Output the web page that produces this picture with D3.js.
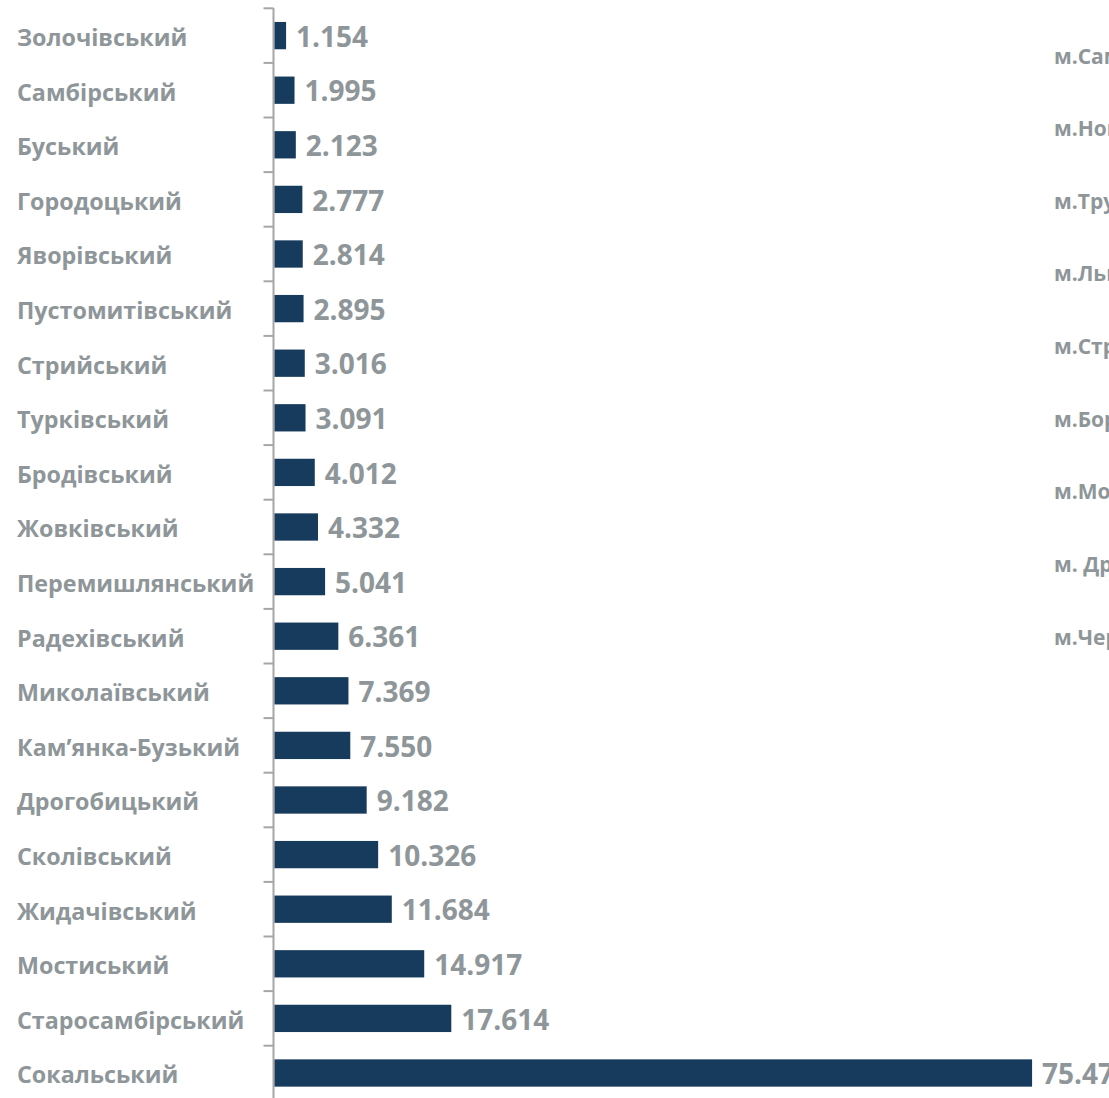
<!DOCTYPE html>
<html>
<head>
<meta charset="utf-8">
<script src="https://cdn.jsdelivr.net/npm/d3@7"></script>
<style>
  html, body { margin: 0; padding: 0; background: #fff; overflow: hidden; }
  svg { display: block; }
  text { font-family: "Open Sans", "Noto Sans", sans-serif; font-weight: 700; fill: #8e9699; }
</style>
</head>
<body>
<div id="chart"></div>
<script>
// Райони (зверху вниз) та значення
const districts = [
  "Золочівський", "Самбірський", "Буський", "Городоцький", "Яворівський",
  "Пустомитівський", "Стрийський", "Турківський", "Бродівський", "Жовківський",
  "Перемишлянський", "Радехівський", "Миколаївський", "Кам’янка-Бузький", "Дрогобицький",
  "Сколівський", "Жидачівський", "Мостиський", "Старосамбірський", "Сокальський"
];
const values = [
  1.154, 1.995, 2.123, 2.777, 2.814,
  2.895, 3.016, 3.091, 4.012, 4.332,
  5.041, 6.361, 7.369, 7.550, 9.182,
  10.326, 11.684, 14.917, 17.614, 75.475
];
const valueLabels = [
  "1.154", "1.995", "2.123", "2.777", "2.814",
  "2.895", "3.016", "3.091", "4.012", "4.332",
  "5.041", "6.361", "7.369", "7.550", "9.182",
  "10.326", "11.684", "14.917", "17.614", "75.475"
];
// Міста другої (обрізаної) діаграми праворуч
const cities = [
  "м.Самбір", "м.Новий Розділ", "м.Трускавець", "м.Львів", "м.Стрий",
  "м.Борислав", "м.Моршин", "м. Дрогобич", "м.Червоноград"
];

const W = 1109, H = 1098;
const svg = d3.select('#chart').append('svg')
  .attr('width', W).attr('height', H);

const axisX = 273.5;

const y = d3.scaleBand()
  .domain(districts)
  .range([8.3, 1100.3])
  .paddingInner(0.5)
  .paddingOuter(0.25);

const x = d3.scaleLinear()
  .domain([0, 80])
  .range([axisX + 1, axisX + 1 + 803]);

const step = y.step();

// Вісь: лінія та поділки на межах категорій
const bounds = districts.map(d => y(d) - step * 0.25);
bounds.push(y(districts[districts.length - 1]) + y.bandwidth() + step * 0.25);

svg.append('line')
  .attr('x1', axisX).attr('x2', axisX)
  .attr('y1', 8).attr('y2', H)
  .attr('stroke', '#a6a6a6').attr('stroke-width', 2);

svg.selectAll('.tick')
  .data(bounds)
  .enter().append('line')
  .attr('class', 'tick')
  .attr('x1', axisX - 10).attr('x2', axisX)
  .attr('y1', d => d).attr('y2', d => d)
  .attr('stroke', '#a6a6a6').attr('stroke-width', 2);

// Стовпчики
svg.selectAll('.bar')
  .data(districts)
  .enter().append('rect')
  .attr('class', 'bar')
  .attr('x', x(0))
  .attr('y', d => y(d))
  .attr('width', (d, i) => x(values[i]) - x(0))
  .attr('height', y.bandwidth())
  .attr('fill', '#173b5c');

// Назви районів
svg.selectAll('.cat')
  .data(districts)
  .enter().append('text')
  .attr('class', 'cat')
  .attr('x', 17)
  .attr('y', d => y(d) + y.bandwidth() / 2)
  .attr('dy', '0.45em')
  .style('font-size', '23.3px')
  .text(d => d);

// Підписи значень
svg.selectAll('.val')
  .data(districts)
  .enter().append('text')
  .attr('class', 'val')
  .attr('x', (d, i) => x(values[i]) + 10)
  .attr('y', d => y(d) + y.bandwidth() / 2)
  .attr('dy', '0.40em')
  .style('font-size', '28px')
  .text((d, i) => valueLabels[i]);

// Обрізана діаграма міст
const yc = d3.scaleBand()
  .domain(cities)
  .range([19.7, 673.3]);

svg.selectAll('.city')
  .data(cities)
  .enter().append('text')
  .attr('class', 'city')
  .attr('x', 1054)
  .attr('y', d => yc(d) + yc.bandwidth() / 2)
  .attr('dy', '0.36em')
  .style('font-size', '21px')
  .text(d => d);
</script>
</body>
</html>
